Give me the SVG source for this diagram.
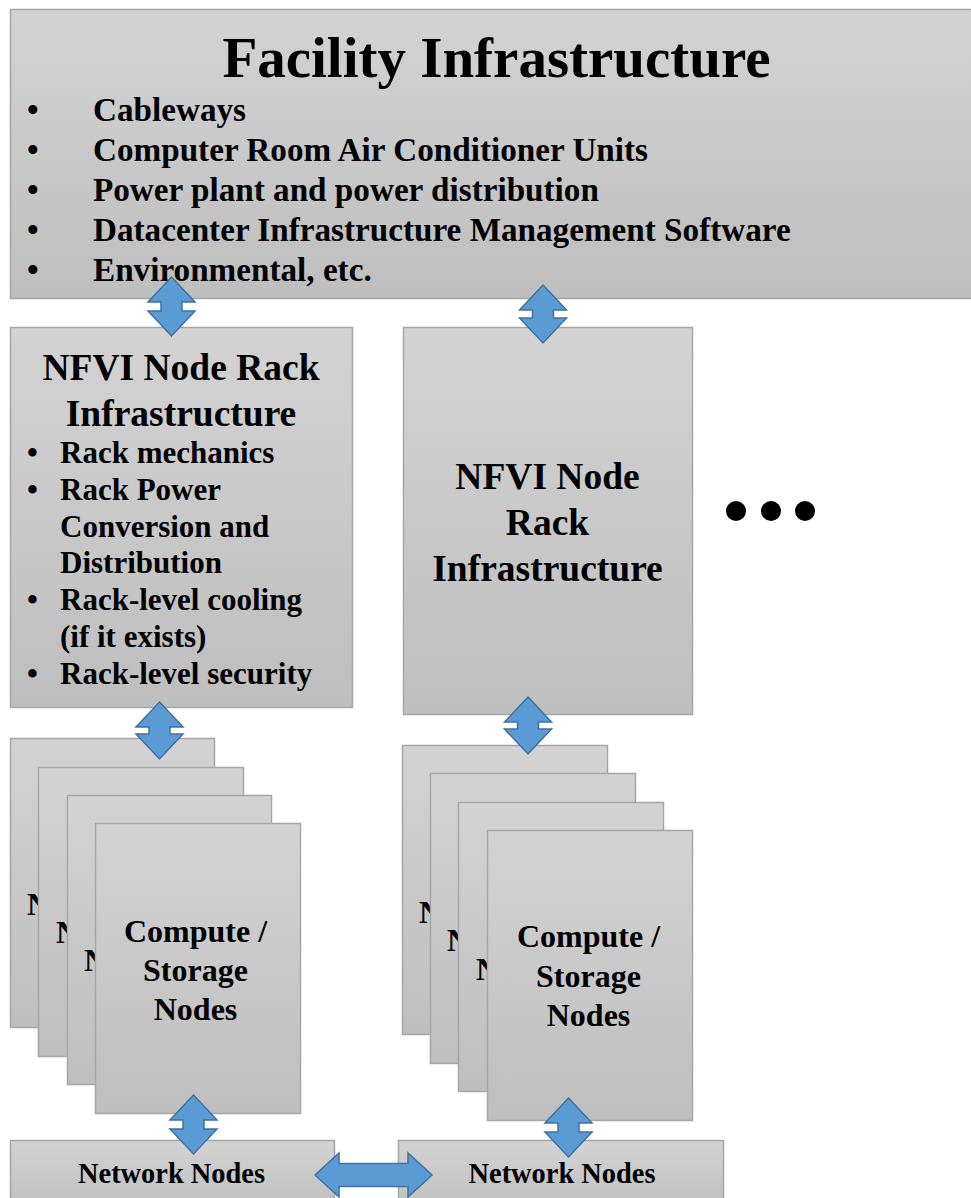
<svg xmlns="http://www.w3.org/2000/svg" width="971" height="1198" viewBox="0 0 971 1198">
<defs>
<linearGradient id="g" x1="0" y1="0" x2="0" y2="1">
<stop offset="0" stop-color="#d3d3d3"/>
<stop offset="1" stop-color="#bebebe"/>
</linearGradient>
<style>
.box{fill:url(#g);stroke:#a6a6a6;stroke-width:1.5}
.arr{fill:#5b9bd5;stroke:#41719c;stroke-width:1.5;stroke-linejoin:miter}
text{font-family:"Liberation Serif","Times New Roman",serif;font-weight:bold;fill:#000}
.title{font-size:57px;text-anchor:middle}
.fl{font-size:33.2px}
.rh{font-size:37.5px;text-anchor:middle}
.rl{font-size:31px}
.cs{font-size:32px;text-anchor:middle}
.nn{font-size:28.4px;text-anchor:middle}
.hid{font-size:32px}
</style>
</defs>
<rect width="971" height="1198" fill="#ffffff"/>

<g id="facility">
<rect class="box" x="10.5" y="9.5" width="980" height="289"/>
<text class="title" x="496.5" y="77">Facility Infrastructure</text>
<text class="fl" x="27" y="121">•</text><text class="fl" x="93" y="121">Cableways</text>
<text class="fl" x="27" y="161">•</text><text class="fl" x="93" y="161">Computer Room Air Conditioner Units</text>
<text class="fl" x="27" y="201">•</text><text class="fl" x="93" y="201">Power plant and power distribution</text>
<text class="fl" x="27" y="241">•</text><text class="fl" x="93" y="241">Datacenter Infrastructure Management Software</text>
<text class="fl" x="27" y="281">•</text><text class="fl" x="93" y="281">Environmental, etc.</text>
</g>

<g id="rack-left">
<rect class="box" x="10.5" y="327.5" width="342" height="380"/>
<text class="rh" x="181" y="380">NFVI Node Rack</text>
<text class="rh" x="181" y="426">Infrastructure</text>
<text class="rl" x="27" y="463">•</text><text class="rl" x="60" y="463">Rack mechanics</text>
<text class="rl" x="27" y="500">•</text><text class="rl" x="60" y="500">Rack Power</text>
<text class="rl" x="60" y="537">Conversion and</text>
<text class="rl" x="60" y="573">Distribution</text>
<text class="rl" x="27" y="610">•</text><text class="rl" x="60" y="610">Rack-level cooling</text>
<text class="rl" x="60" y="647">(if it exists)</text>
<text class="rl" x="27" y="684">•</text><text class="rl" x="60" y="684">Rack-level security</text>
</g>

<g id="rack-right">
<rect class="box" x="403.5" y="327.5" width="289" height="387"/>
<text class="rh" x="547.5" y="489">NFVI Node</text>
<text class="rh" x="547.5" y="535">Rack</text>
<text class="rh" x="547.5" y="581">Infrastructure</text>
</g>

<g id="ellipsis">
<circle cx="736" cy="511" r="10" fill="#000"/>
<circle cx="771" cy="511" r="10" fill="#000"/>
<circle cx="805" cy="511" r="10" fill="#000"/>
</g>

<g id="stack-left">
<rect class="box" x="10.5" y="738.5" width="204" height="289"/>
<text class="hid" x="27" y="915">N</text>
<rect class="box" x="38.5" y="767.5" width="205" height="289"/>
<text class="hid" x="56" y="943">N</text>
<rect class="box" x="67.5" y="795.5" width="204" height="289"/>
<text class="hid" x="84" y="971">N</text>
<rect class="box" x="95.5" y="823.5" width="205" height="290"/>
<text class="cs" x="195.5" y="942">Compute /</text>
<text class="cs" x="195.5" y="981">Storage</text>
<text class="cs" x="195.5" y="1020">Nodes</text>
</g>

<g id="stack-right">
<rect class="box" x="402.5" y="745.5" width="205" height="289"/>
<text class="hid" x="419" y="923">N</text>
<rect class="box" x="430.5" y="773.5" width="205" height="290"/>
<text class="hid" x="447" y="951">N</text>
<rect class="box" x="458.5" y="802.5" width="205" height="289"/>
<text class="hid" x="476" y="980">N</text>
<rect class="box" x="487.5" y="830.5" width="205" height="290"/>
<text class="cs" x="588.5" y="947">Compute /</text>
<text class="cs" x="588.5" y="987">Storage</text>
<text class="cs" x="588.5" y="1026">Nodes</text>
</g>

<g id="network-left">
<rect class="box" x="10.5" y="1140.5" width="324" height="70"/>
<text class="nn" x="171.5" y="1183">Network Nodes</text>
</g>

<g id="network-right">
<rect class="box" x="398.5" y="1140.5" width="325" height="70"/>
<text class="nn" x="562" y="1183">Network Nodes</text>
</g>

<g id="connectors">
<path class="arr" d="M171.5,277 L195,302 L182,302 L182,311 L195,311 L171.5,336 L148,311 L161,311 L161,302 L148,302 Z"/>
<path class="arr" d="M543,285 L566.5,310 L553.5,310 L553.5,318 L566.5,318 L543,343 L519.5,318 L532.5,318 L532.5,310 L519.5,310 Z"/>
<path class="arr" d="M159.5,702 L183,727 L170,727 L170,734 L183,734 L159.5,759 L136,734 L149,734 L149,727 L136,727 Z"/>
<path class="arr" d="M528,697 L551.5,722 L538.5,722 L538.5,729 L551.5,729 L528,754 L504.5,729 L517.5,729 L517.5,722 L504.5,722 Z"/>
<path class="arr" d="M193.5,1095 L217,1120 L204,1120 L204,1129 L217,1129 L193.5,1154 L170,1129 L183,1129 L183,1120 L170,1120 Z"/>
<path class="arr" d="M568.5,1098 L592,1123 L579,1123 L579,1132 L592,1132 L568.5,1157 L545,1132 L558,1132 L558,1123 L545,1123 Z"/>
<path class="arr" d="M315,1175 L339,1153 L339,1163.5 L408,1163.5 L408,1153 L432,1175 L408,1197 L408,1186.5 L339,1186.5 L339,1197 Z"/>
</g>
</svg>
